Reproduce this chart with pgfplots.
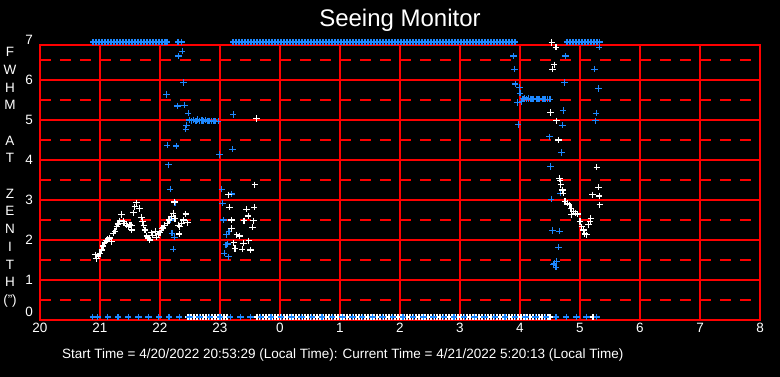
\documentclass[border=0pt]{standalone}
\usepackage{pgfplots}
\pgfplotsset{compat=1.18}
\usepackage{fontspec}
\setmainfont{Liberation Sans}
\definecolor{mblue}{RGB}{30,136,255}
\begin{document}
\begin{tikzpicture}
\path[use as bounding box, fill=black] (-40pt,-57pt) rectangle (740pt,320pt);
\begin{axis}[
 at={(0,0)}, anchor=south west,
 scale only axis, width=720pt, height=275pt,
 xmin=20, xmax=32, ymin=0, ymax=6.875,
 clip=false,
 axis line style={red, line width=1.3pt},
 xtick={20,...,32},
 xticklabels={20,21,22,23,0,1,2,3,4,5,6,7,8},
 ytick={1,...,6},
 minor ytick={0.5,1.5,...,6.5},
 major tick length=0pt, minor tick length=0pt,
 xmajorgrids, ymajorgrids, yminorgrids,
 major grid style={red, line width=1.3pt},
 minor grid style={red, line width=1.3pt, dash pattern=on 11pt off 9pt},
 tick label style={white, font=\fontsize{13.5}{15}\selectfont},
 /pgf/number format/assume math mode=true,
 xticklabel style={inner sep=0pt, yshift=-3pt},
 yticklabel style={inner sep=0pt, xshift=-7pt},
 mk/.style={only marks, mark=+, mark size=3.2pt, mark options={line width=1.2pt}},
 mkd/.style={only marks, mark=+, mark size=3pt, mark options={line width=1.9pt}},
]
% white markers on the zero line
\addplot[mkd, white] coordinates {
(22.47,0.075)(22.52,0.075)(22.57,0.075)(22.62,0.075)(22.67,0.075)(22.72,0.075)(22.77,0.075)(22.82,0.075)(22.87,0.075)(22.92,0.075)(22.97,0.075)(23.02,0.075)(23.07,0.075)(23.12,0.075)
(23.62,0.075)(23.67,0.075)(23.72,0.075)(23.77,0.075)(23.82,0.075)(23.87,0.075)(23.92,0.075)(23.97,0.075)(24.02,0.075)(24.07,0.075)
(24.12,0.075)(24.17,0.075)(24.22,0.075)(24.27,0.075)(24.32,0.075)(24.37,0.075)(24.42,0.075)(24.47,0.075)(24.52,0.075)(24.57,0.075)
(24.62,0.075)(24.67,0.075)(24.72,0.075)(24.77,0.075)(24.82,0.075)(24.87,0.075)(24.92,0.075)(24.97,0.075)(25.02,0.075)(25.07,0.075)
(25.12,0.075)(25.17,0.075)(25.22,0.075)(25.27,0.075)(25.32,0.075)(25.37,0.075)(25.42,0.075)(25.47,0.075)(25.52,0.075)(25.57,0.075)
(25.62,0.075)(25.67,0.075)(25.72,0.075)(25.77,0.075)(25.82,0.075)(25.87,0.075)(25.92,0.075)(25.97,0.075)(26.02,0.075)(26.07,0.075)
(26.12,0.075)(26.17,0.075)(26.22,0.075)(26.27,0.075)(26.32,0.075)(26.37,0.075)(26.42,0.075)(26.47,0.075)(26.52,0.075)(26.57,0.075)
(26.62,0.075)(26.67,0.075)(26.72,0.075)(26.77,0.075)(26.82,0.075)(26.87,0.075)(26.92,0.075)(26.97,0.075)(27.02,0.075)(27.07,0.075)
(27.12,0.075)(27.17,0.075)(27.22,0.075)(27.27,0.075)(27.32,0.075)(27.37,0.075)(27.42,0.075)(27.47,0.075)(27.52,0.075)(27.57,0.075)
(27.62,0.075)(27.67,0.075)(27.72,0.075)(27.77,0.075)(27.82,0.075)(27.87,0.075)(27.92,0.075)(27.97,0.075)(28.02,0.075)(28.07,0.075)
(28.12,0.075)(28.17,0.075)(28.22,0.075)(28.27,0.075)(28.32,0.075)(28.37,0.075)(28.42,0.075)(28.47,0.075)(28.50,0.075)(29.22,0.075)
};
% blue markers on the zero line
\addplot[mk, mblue] coordinates {
(20.88,0.075)(20.96,0.075)(21.13,0.075)(21.30,0.075)(21.47,0.075)(21.64,0.075)(21.81,0.075)(21.98,0.075)(22.15,0.075)(22.32,0.075)
(22.49,0.075)(22.66,0.075)(22.83,0.075)(23.00,0.075)(23.17,0.075)(23.34,0.075)(23.51,0.075)(23.68,0.075)(23.85,0.075)(24.02,0.075)
(24.19,0.075)(24.36,0.075)(24.53,0.075)(24.70,0.075)(24.87,0.075)(25.04,0.075)(25.21,0.075)(25.37,0.075)(25.54,0.075)(25.71,0.075)
(25.88,0.075)(26.05,0.075)(26.22,0.075)(26.39,0.075)(26.56,0.075)(26.73,0.075)(26.90,0.075)(27.07,0.075)(27.24,0.075)(27.41,0.075)
(27.58,0.075)(27.75,0.075)(27.92,0.075)(28.09,0.075)(28.26,0.075)(28.43,0.075)(28.60,0.075)(28.77,0.075)(28.94,0.075)(29.11,0.075)(29.28,0.075)
};
% blue markers on the top line
\addplot[mkd, mblue] coordinates {
(20.88,6.95)(20.93,6.95)(20.98,6.95)(21.03,6.95)(21.08,6.95)(21.13,6.95)(21.18,6.95)(21.23,6.95)(21.28,6.95)(21.33,6.95)
(21.38,6.95)(21.43,6.95)(21.48,6.95)(21.53,6.95)(21.58,6.95)(21.63,6.95)(21.68,6.95)(21.73,6.95)(21.78,6.95)(21.83,6.95)
(21.88,6.95)(21.93,6.95)(21.98,6.95)(22.03,6.95)(22.08,6.95)(22.12,6.95)
(23.22,6.95)(23.27,6.95)(23.32,6.95)(23.37,6.95)(23.42,6.95)(23.47,6.95)(23.52,6.95)(23.57,6.95)(23.62,6.95)(23.67,6.95)
(23.72,6.95)(23.77,6.95)(23.82,6.95)(23.87,6.95)(23.92,6.95)(23.97,6.95)(24.02,6.95)(24.07,6.95)(24.12,6.95)(24.17,6.95)
(24.22,6.95)(24.27,6.95)(24.32,6.95)(24.37,6.95)(24.42,6.95)(24.47,6.95)(24.52,6.95)(24.57,6.95)(24.62,6.95)(24.67,6.95)
(24.72,6.95)(24.77,6.95)(24.82,6.95)(24.87,6.95)(24.92,6.95)(24.97,6.95)(25.02,6.95)(25.07,6.95)(25.12,6.95)(25.17,6.95)
(25.22,6.95)(25.27,6.95)(25.32,6.95)(25.37,6.95)(25.42,6.95)(25.47,6.95)(25.52,6.95)(25.57,6.95)(25.62,6.95)(25.67,6.95)
(25.72,6.95)(25.77,6.95)(25.82,6.95)(25.87,6.95)(25.92,6.95)(25.97,6.95)(26.02,6.95)(26.07,6.95)(26.12,6.95)(26.17,6.95)
(26.22,6.95)(26.27,6.95)(26.32,6.95)(26.37,6.95)(26.42,6.95)(26.47,6.95)(26.52,6.95)(26.57,6.95)(26.62,6.95)(26.67,6.95)
(26.72,6.95)(26.77,6.95)(26.82,6.95)(26.87,6.95)(26.92,6.95)(26.97,6.95)(27.02,6.95)(27.07,6.95)(27.12,6.95)(27.17,6.95)
(27.22,6.95)(27.27,6.95)(27.32,6.95)(27.37,6.95)(27.42,6.95)(27.47,6.95)(27.52,6.95)(27.57,6.95)(27.62,6.95)(27.67,6.95)
(27.72,6.95)(27.77,6.95)(27.82,6.95)(27.87,6.95)(27.92,6.95)
(28.78,6.95)(28.83,6.95)(28.88,6.95)(28.93,6.95)(28.98,6.95)(29.03,6.95)(29.08,6.95)(29.13,6.95)(29.18,6.95)(29.23,6.95)(29.28,6.95)
};
\addplot[mk, mblue] coordinates {(22.30,6.95)(22.36,6.95)(29.33,6.95)};
% blue scattered FWHM values
\addplot[mk, mblue] coordinates {
(22.37,6.72)(22.31,6.60)(22.39,5.94)(22.11,5.64)(22.29,5.35)(22.41,5.37)(22.47,5.17)(22.49,5.00)(22.44,4.87)(22.43,4.77)
(22.53,4.98)(22.56,5.00)(22.60,4.97)(22.63,5.01)(22.66,4.98)(22.70,4.99)(22.73,4.97)(22.76,5.00)(22.80,4.98)(22.83,4.98)(22.86,4.97)(22.90,4.98)(22.93,4.97)(22.97,4.97)
(23.22,5.14)(22.12,4.37)(22.27,4.35)(22.99,4.14)(23.21,4.27)
(22.14,3.88)(22.17,3.27)(22.25,2.93)(22.18,2.50)(22.20,2.17)(22.24,2.07)(22.22,1.77)
(23.03,3.27)(23.19,3.15)(23.04,2.92)(23.06,2.50)(23.15,2.21)(23.11,2.13)(23.10,1.88)(23.13,1.90)(23.07,1.67)(23.14,1.58)
(27.89,6.60)(27.91,6.27)(27.92,5.90)(27.99,5.82)(28.00,5.67)(27.96,5.44)(28.03,5.46)
(28.05,5.53)(28.08,5.55)(28.11,5.52)(28.14,5.54)(28.17,5.53)(28.20,5.52)(28.23,5.53)(28.27,5.52)(28.30,5.52)(28.33,5.53)(28.37,5.52)(28.40,5.52)(28.43,5.52)(28.46,5.52)(28.50,5.52)
(27.97,4.89)(28.76,6.60)(28.74,5.94)(28.72,5.24)(28.71,4.87)(28.49,4.58)(28.69,4.19)(29.24,6.27)(29.31,5.79)(29.27,5.17)(29.26,4.98)(29.32,6.82)
(28.51,3.84)(28.52,3.02)(28.67,3.17)(28.54,2.24)(28.66,2.22)(28.64,1.82)(28.57,1.42)(28.56,1.38)(28.60,1.32)(28.61,1.46)
};
% white scattered FWHM values
\addplot[mk, white] coordinates {
(20.92,1.63)(20.94,1.54)(20.97,1.60)(21.00,1.67)(21.03,1.75)(21.05,1.85)(21.08,1.93)(21.10,1.98)(21.13,2.02)(21.16,2.05)(21.19,1.96)
(21.22,2.17)(21.25,2.22)(21.28,2.33)(21.30,2.40)(21.33,2.48)(21.36,2.64)(21.39,2.46)(21.41,2.42)(21.44,2.37)(21.47,2.33)(21.50,2.38)
(21.53,2.37)(21.53,2.25)(21.56,2.68)(21.58,2.83)(21.61,2.93)(21.66,2.79)(21.69,2.57)(21.71,2.46)(21.73,2.37)(21.75,2.25)
(21.78,2.10)(21.80,2.05)(21.83,2.00)(21.86,2.18)(21.88,2.12)(21.92,2.22)(21.94,2.07)(21.97,2.15)(22.00,2.18)(22.03,2.29)(22.05,2.30)
(22.08,2.37)(22.12,2.42)(22.15,2.50)(22.19,2.58)(22.22,2.67)(22.25,2.54)(22.24,2.95)(22.31,2.37)(22.33,2.33)(22.36,2.42)(22.39,2.50)
(22.43,2.65)(22.46,2.43)(22.32,2.15)
(23.58,3.38)(23.14,3.13)(23.16,2.82)(23.44,2.77)(23.57,2.82)(23.47,2.60)(23.40,2.48)(23.56,2.48)(23.19,2.50)(23.19,2.29)
(23.54,2.32)(23.28,2.13)(23.33,2.10)(23.23,1.93)(23.39,1.92)(23.48,1.98)(23.25,1.79)(23.37,1.77)(23.51,1.75)(23.61,5.04)
(28.53,6.94)(28.60,6.82)(28.57,6.38)(28.54,6.27)(28.51,5.19)(28.61,4.98)(28.64,4.50)
(29.28,3.82)(29.31,3.32)(29.21,3.13)(29.32,3.10)(29.33,2.88)
(28.66,3.54)(28.67,3.48)(28.68,3.38)(28.71,3.25)(28.72,3.17)(28.75,2.96)(28.79,2.92)(28.82,2.88)(28.85,2.79)(28.89,2.71)
(28.92,2.67)(28.96,2.65)(28.86,2.63)(29.00,2.46)(29.03,2.33)(29.06,2.25)(29.08,2.15)(29.11,2.13)(29.14,2.38)(29.17,2.46)(29.18,2.54)
};
% labels
\node[white, inner sep=0pt, anchor=east, font=\fontsize{13.5}{15}\selectfont, xshift=-7pt] at (axis cs:20,7) {7};
\node[white, inner sep=0pt, anchor=east, font=\fontsize{13.5}{15}\selectfont, xshift=-7pt] at (axis cs:20,0.2) {0};
\node[white, inner sep=0pt, anchor=north, align=center, font=\fontsize{13.5}{17.7}\selectfont] at (axis cs:19.5,6.82)
 {F\\W\\H\\M\\\mbox{}\\A\\T\\\mbox{}\\Z\\E\\N\\I\\T\\H\\(")};
\node[white, font=\fontsize{24}{28}\selectfont] at (axis cs:26,6.875) [yshift=25pt] {Seeing Monitor};
\node[white, anchor=west, inner sep=0pt, font=\fontsize{13.5}{15}\selectfont] at (axis cs:20.367,-0.875)
 {Start Time = 4/20/2022 20:53:29 (Local Time): Current Time = 4/21/2022 5:20:13 (Local Time)};
\end{axis}
\end{tikzpicture}
\end{document}
